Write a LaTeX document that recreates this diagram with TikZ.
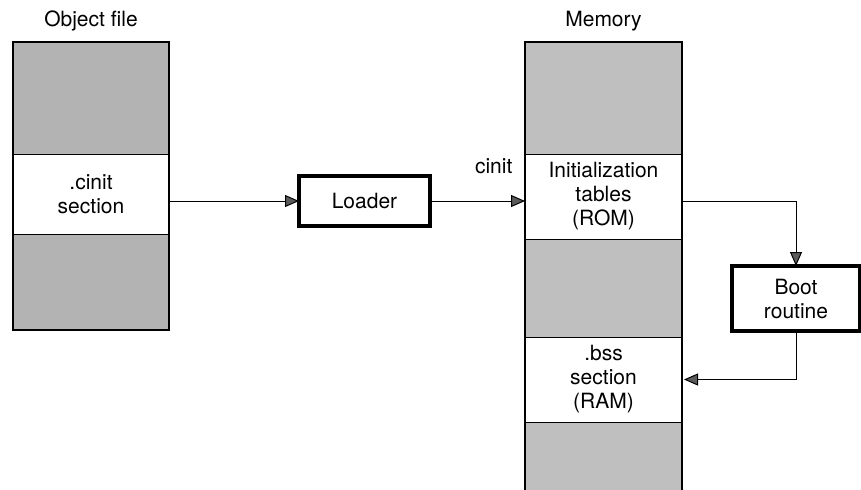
\documentclass[tikz,border=0pt]{standalone}
\usepackage{fontspec}
\setmainfont{TeX Gyre Heros}
\usetikzlibrary{arrows.meta, positioning}
\definecolor{objfill}{RGB}{179,179,179}
\definecolor{memfill}{RGB}{191,191,191}
\definecolor{tipfill}{RGB}{90,90,90}

\begin{document}
\begin{tikzpicture}[x=0.5pt, y=-0.5pt, node distance=0pt,
		every node/.style={font=\fontsize{10.5}{12}\selectfont, outer sep=0pt},
		sec/.style={draw, line width=0.5pt, minimum width=78pt, align=center, inner sep=0pt},
		objgrey/.style={sec, fill=objfill},
		memsec/.style={sec, minimum width=78.5pt},
		memgrey/.style={memsec, fill=memfill},
		procbox/.style={draw, line width=1.6pt, align=center, inner sep=0pt},
		flow/.style={-{Triangle[length=7pt, width=6pt, fill=tipfill]}, line width=0.5pt}]
	\clip (0,0) rectangle (861,489);
	% titles
	\node[anchor=base] (objtitle) at (91,26) {Object file};
	\node[anchor=base] (memtitle) at (603.5,26) {Memory};
	% object file
	\node[objgrey, minimum height=56pt, anchor=north west] (objtop) at (13,42) {};
	\node[sec, minimum height=40pt, below=of objtop] (cinitsec) {.cinit\\section};
	\node[objgrey, minimum height=48pt, below=of cinitsec] (objbot) {};
	\draw[line width=1.2pt] (objtop.north west) rectangle (objbot.south east);
	% memory
	\node[memgrey, minimum height=56pt, anchor=north west] (memtop) at (525,42) {};
	\node[memsec, minimum height=42.5pt, below=of memtop] (rom) {Initialization\\tables\\(ROM)};
	\node[memgrey, minimum height=49pt, below=of rom] (memmid) {};
	\node[memsec, minimum height=42.5pt, below=of memmid] (bss) {.bss\\section\\(RAM)};
	\node[memgrey, minimum height=39pt, below=of bss] (membot) {};
	\draw[line width=1.2pt] (memtop.north west) rectangle (membot.south east);
	\node[anchor=base east] (cinitlbl) at (519,173) {cinit};
	% loader and boot routine
	\node[procbox, minimum width=65.5pt, minimum height=25pt] (loader) at (364.5,201) {Loader};
	\node[procbox, minimum width=64pt, minimum height=32.5pt] (boot) at (796,298.5) {Boot\\routine};
	% connectors
	\draw[flow] (cinitsec.east |- loader.west) -- (loader.west);
	\draw[flow] (loader.east) -- (rom.west |- loader.east);
	\draw[flow] (rom.east |- loader.east) -| (boot.north);
	\draw[flow, shorten >=1pt] (boot.south) |- (bss.east);
\end{tikzpicture}
\end{document}
